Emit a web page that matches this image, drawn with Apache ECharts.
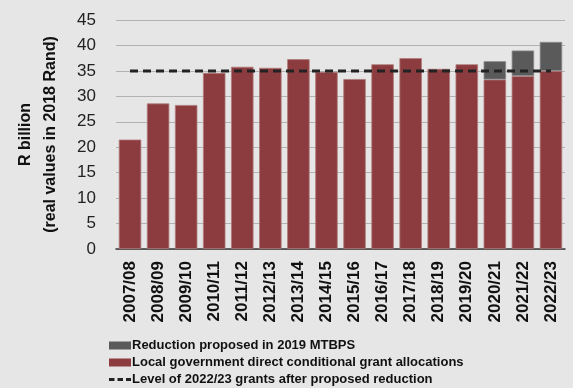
<!DOCTYPE html>
<html>
<head>
<meta charset="utf-8">
<script src="https://cdn.jsdelivr.net/npm/echarts@6/dist/echarts.min.js"></script>
<style>
  html, body { margin: 0; padding: 0; background: #e6e6e6; }
  #chart { width: 573px; height: 388px; }
</style>
</head>
<body>
<div id="chart"></div>
<script>
// Financial years on the category axis
const years = ['2007/08', '2008/09', '2009/10', '2010/11', '2011/12', '2012/13', '2013/14', '2014/15',
               '2015/16', '2016/17', '2017/18', '2018/19', '2019/20', '2020/21', '2021/22', '2022/23'];

// Local government direct conditional grant allocations (R billion, 2018 rand)
const allocations = [21.5, 28.6, 28.3, 34.6, 35.8, 35.6, 37.3, 34.8,
                     33.4, 36.3, 37.5, 35.4, 36.3, 33.3, 34.0, 35.0];

// Reduction proposed in the 2019 MTBPS (stacked above the allocation)
const reductions = [null, null, null, null, null, null, null, null,
                    null, null, null, null, null, 3.6, 5.0, 5.7];

// Level of 2022/23 grants after the proposed reduction, across all years
const finalLevel = allocations[allocations.length - 1];
const levelLine = years.map(() => finalLevel);

const yTicks = [0, 5, 10, 15, 20, 25, 30, 35, 40, 45];

const NAME_RED = 'Reduction proposed in 2019 MTBPS';
const NAME_ALLOC = 'Local government direct conditional grant allocations';
const NAME_LEVEL = 'Level of 2022/23 grants after proposed reduction';

const FONT = '"Liberation Sans", Arial, sans-serif';

// three short dashes for the reference-line legend key
const DASH_ICON = 'path://M0,0h5.5v3h-5.5z M8.5,0h5.5v3h-5.5z M17,0h5v3h-5z';

const chart = echarts.init(document.getElementById('chart'), null, { renderer: 'canvas' });

chart.setOption({
  backgroundColor: '#e6e6e6',
  animation: false,
  textStyle: { fontFamily: FONT },
  grid: { left: 116, right: 8, top: 20, bottom: 139, containLabel: false, outerBoundsMode: 'none' },
  legend: {
    orient: 'vertical',
    left: 109,
    top: 338,
    padding: 0,
    itemWidth: 22,
    itemHeight: 8,
    itemGap: 2,
    icon: 'rect',
    itemStyle: { borderWidth: 0 },
    data: [
      { name: NAME_RED },
      { name: NAME_ALLOC },
      { name: NAME_LEVEL, icon: DASH_ICON }
    ],
    textStyle: {
      fontFamily: FONT, fontWeight: 'bold', fontSize: 13, lineHeight: 15,
      color: '#111', padding: [0, 0, 0, -4]
    }
  },
  xAxis: {
    type: 'category',
    data: years,
    axisTick: { show: false },
    axisLine: { lineStyle: { color: '#3a3a3a', width: 1.5 } },
    axisLabel: {
      interval: 0,
      rotate: 90,
      margin: 12,
      fontFamily: FONT,
      fontWeight: 'bold',
      fontSize: 17,
      color: '#111'
    }
  },
  yAxis: {
    type: 'value',
    min: yTicks[0],
    max: yTicks[yTicks.length - 1],
    interval: 5,
    name: 'R billion\n(real values in 2018 Rand)',
    nameLocation: 'middle',
    nameRotate: 90,
    nameGap: 53,
    nameTextStyle: { fontFamily: FONT, fontWeight: 'bold', fontSize: 16, lineHeight: 25, color: '#111' },
    axisLine: { show: false },
    axisTick: { show: false },
    axisLabel: { margin: 20, fontFamily: FONT, fontSize: 17, color: '#222' },
    splitLine: { lineStyle: { color: '#b2b2b2', width: 1 } }
  },
  series: [
    {
      name: NAME_ALLOC,
      type: 'bar',
      stack: 'grants',
      data: allocations,
      barCategoryGap: '20%',
      itemStyle: { color: '#8c3c3e', borderColor: '#b07a7b', borderWidth: 0.8 }
    },
    {
      name: NAME_RED,
      type: 'bar',
      stack: 'grants',
      data: reductions,
      barCategoryGap: '20%',
      itemStyle: { color: '#5a5a5a', borderColor: '#8a8a8a', borderWidth: 0.8 }
    },
    {
      name: NAME_LEVEL,
      type: 'line',
      data: levelLine,
      symbol: 'none',
      z: 5,
      lineStyle: { color: '#222', width: 3, type: [8, 5] },
      itemStyle: { color: '#222' }
    }
  ]
});
</script>
</body>
</html>
